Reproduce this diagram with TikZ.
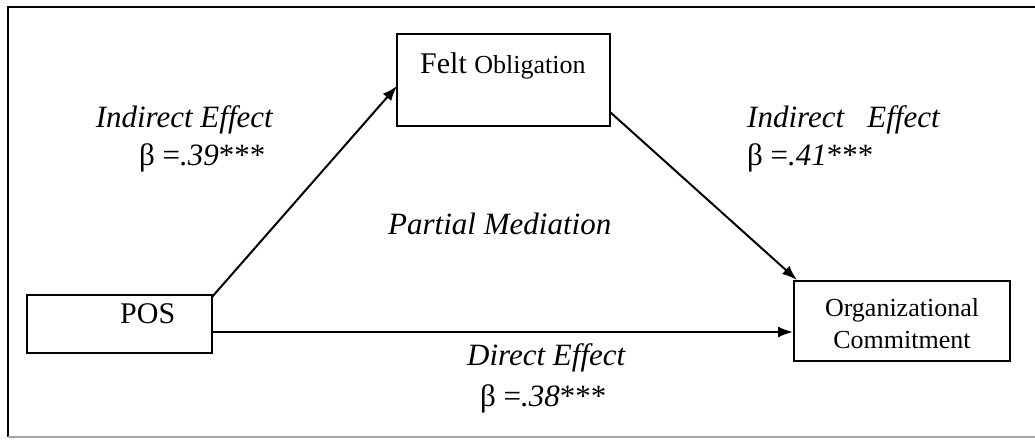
\documentclass[tikz,border=0pt]{standalone}
\usepackage{fontspec}
\setmainfont{Liberation Serif}
\usetikzlibrary{arrows.meta}
\begin{document}
\begin{tikzpicture}[x=1pt,y=-1pt,
  box/.style={draw,line width=2pt,inner sep=0pt},
  conn/.style={line width=2pt,-{Latex[length=15pt,width=11pt]}},
  lbl/.style={inner sep=0pt,anchor=base west,font=\fontsize{31}{35}\selectfont}]
\useasboundingbox (0,0) rectangle (1035,439);
\draw[line width=2pt] (1035,7) -- (8,7) -- (8,437);
\draw[line width=2pt,gray!70] (8,437) -- (1035,437);
% boxes
\node[box,minimum width=185pt,minimum height=58pt] (pos) at (119.5,324) {};
\node[inner sep=0pt,anchor=base west,font=\fontsize{30}{34}\selectfont] (posl) at (120,323) {POS};
\node[box,minimum width=213pt,minimum height=92pt] (felt) at (503.5,80) {};
\node[inner sep=0pt,anchor=base west] (feltl) at (420,73) {\fontsize{30}{34}\selectfont Felt \fontsize{26}{30}\selectfont Obligation};
\node[box,minimum width=216pt,minimum height=80pt] (org) at (902,321) {};
\node[inner sep=0pt,anchor=base,font=\fontsize{26}{32}\selectfont] (orgl1) at (902,316) {Organizational};
\node[inner sep=0pt,anchor=base,font=\fontsize{26}{32}\selectfont] (orgl2) at (902,348) {Commitment};
% connectors
\coordinate (a1) at (212,297);
\coordinate (a2) at (397,86);
\coordinate (b1) at (610,112);
\coordinate (b2) at (797,280);
\draw[conn] (a1) -- (a2);
\draw[conn] (b1) -- (b2);
\draw[conn] (pos.east |- 0,332) -- (org.west |- 0,332);
% labels
\node[lbl,anchor=base east] (ie1) at (273,127) {\itshape Indirect Effect};
\node[lbl] (b39) at (139,165) {β =\textit{.39}***};
\node[lbl] (ie2) at (747,127) {\itshape Indirect\ \ \ Effect};
\node[lbl] (b41) at (747,165) {β =\textit{.41}***};
\node[lbl] (pm) at (388,234) {\itshape Partial Mediation};
\node[lbl] (de) at (467,365) {\itshape Direct Effect};
\node[lbl] (b38) at (480,406) {β =\textit{.38}***};
\end{tikzpicture}
\end{document}
